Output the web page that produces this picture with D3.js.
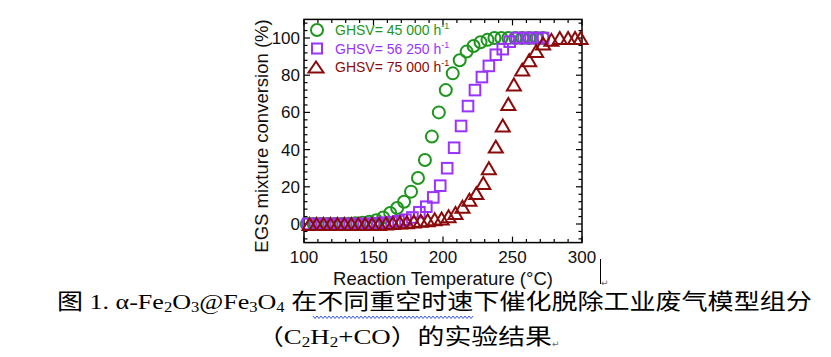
<!DOCTYPE html>
<html><head><meta charset="utf-8">
<script src="https://cdn.jsdelivr.net/npm/d3@7"></script>
<style>html,body{margin:0;padding:0;background:#fff;}</style>
</head><body>
<svg id="c" width="831" height="357"></svg>
<script>
// ---- data ----
const seriesNames = ["GHSV= 45 000 h", "GHSV= 56 250 h", "GHSV= 75 000 h"];
const tempA = [102,107,112,117,122,127,132,137,142,147,152,157,162,167,172,177,182,187,192,197,202,207,212,217,222,227,232,237,242,247,252,257,262,267,272];
const convA = [0,0,0,0,0,0,0.2,0.4,0.7,1.2,2,3.5,5.9,8.6,12,17.4,24.7,34.4,47,60,72,81,88,92.7,95.7,97.7,99,100,100,100,100,100,100,100,100];
const tempB = [103,108,113,118,123,128,133,138,143,148,153,158,163,168,173,178,183,188,193,198,203,208,213,218,223,228,233,238,243,248,253,258,263,268,272];
const convB = [0,0,0,0,0,0,0,0,0,0.2,0.4,0.7,1,1.5,2.3,3.5,6.3,9.3,14.3,20.6,30,41,52.7,63.4,72,79,85,91,94,98,100,100,100,100,100];
const tempC = [104,109,114,119,124,129,134,139,144,149,154,159,164,169,174,179,184,189,194,199,204,209,214,219,224,229,233,238,243,247,251,257,262,267,272,278,284,290,295,299];
const convC = [0,0,0,0,0,0,0,0,0,0,0,0.3,0.5,0.8,1,1.3,1.7,2,2.5,3,4.2,5.9,9.3,13,16.6,22,30,41.6,53,64.5,75,83,88,93,97,99,100,100,100,100];
const xTicks = [100,150,200,250,300];
const yTicks = [0,20,40,60,80,100];
const colors = ["#1e961e", "#9a33ff", "#8b0a0a"];

const svg = d3.select("#c");
const X0=304, X1=582, Y0=242.6, Y1=19.4;
const x = d3.scaleLinear().domain([100,300]).range([X0,X1]);
const y = d3.scaleLinear().domain([-10,110]).range([Y0,Y1]);

// frame
svg.append("rect").attr("x",X0).attr("y",Y1).attr("width",X1-X0).attr("height",Y0-Y1)
  .attr("fill","none").attr("stroke","#000").attr("stroke-width",1.5);

// ticks (inward, all four sides)
const xMinor = d3.range(110,300,10).filter(v=>v%50!==0);
const yMinor = d3.range(-8,110,4).filter(v=>v%20!==0);
const tg = svg.append("g").attr("stroke","#000").attr("stroke-width",1.2);
xTicks.forEach(v=>{ tg.append("line").attr("x1",x(v)).attr("x2",x(v)).attr("y1",Y0).attr("y2",Y0-6);
  tg.append("line").attr("x1",x(v)).attr("x2",x(v)).attr("y1",Y1).attr("y2",Y1+6);});
xMinor.forEach(v=>{ tg.append("line").attr("x1",x(v)).attr("x2",x(v)).attr("y1",Y0).attr("y2",Y0-3.5);
  tg.append("line").attr("x1",x(v)).attr("x2",x(v)).attr("y1",Y1).attr("y2",Y1+3.5);});
yTicks.forEach(v=>{ tg.append("line").attr("y1",y(v)).attr("y2",y(v)).attr("x1",X0).attr("x2",X0+6);
  tg.append("line").attr("y1",y(v)).attr("y2",y(v)).attr("x1",X1).attr("x2",X1-6);});
yMinor.forEach(v=>{ tg.append("line").attr("y1",y(v)).attr("y2",y(v)).attr("x1",X0).attr("x2",X0+3.5);
  tg.append("line").attr("y1",y(v)).attr("y2",y(v)).attr("x1",X1).attr("x2",X1-3.5);});

// tick labels
const lab = svg.append("g").attr("font-family","Liberation Sans, Arial, sans-serif").attr("font-size",17).attr("fill","#111");
xTicks.forEach(v=>lab.append("text").attr("x",x(v)).attr("y",263).attr("text-anchor","middle").text(v));
yTicks.forEach(v=>lab.append("text").attr("x",300).attr("y",y(v)+6).attr("text-anchor","end").text(v));

// axis titles
svg.append("text").attr("x",(X0+X1)/2).attr("y",285).attr("text-anchor","middle")
  .attr("font-family","Liberation Sans, Arial, sans-serif").attr("font-size",18.5).attr("fill","#111")
  .text("Reaction Temperature (°C)");
svg.append("text").attr("transform","translate(268,136) rotate(-90)").attr("text-anchor","middle")
  .attr("font-family","Liberation Sans, Arial, sans-serif").attr("font-size",18.5).attr("fill","#111")
  .text("EGS mixture conversion (%)");

// markers
function tri(cx,cy,w,h){ return `M${cx-w/2},${cy+h/2}L${cx+w/2},${cy+h/2}L${cx},${cy-h/2}Z`; }
const gA = svg.append("g");
tempA.forEach((t,i)=>gA.append("circle").attr("cx",x(t)).attr("cy",y(convA[i])).attr("r",6)
  .attr("fill","none").attr("stroke",colors[0]).attr("stroke-width",2));
const gB = svg.append("g");
tempB.forEach((t,i)=>gB.append("rect").attr("x",x(t)-5.3).attr("y",y(convB[i])-5.3).attr("width",10.6).attr("height",10.6)
  .attr("fill","none").attr("stroke",colors[1]).attr("stroke-width",2));
const gC = svg.append("g");
tempC.forEach((t,i)=>gC.append("path").attr("d",tri(x(t),y(convC[i]),14,12))
  .attr("fill","none").attr("stroke",colors[2]).attr("stroke-width",2).attr("stroke-linejoin","miter"));

// legend
const leg = svg.append("g").attr("font-family","Liberation Sans, Arial, sans-serif");
const legY = [30,48.5,67];
leg.append("circle").attr("cx",317).attr("cy",legY[0]).attr("r",6).attr("fill","none").attr("stroke",colors[0]).attr("stroke-width",2);
leg.append("rect").attr("x",312).attr("y",legY[1]-5).attr("width",10).attr("height",10).attr("fill","none").attr("stroke",colors[1]).attr("stroke-width",2);
leg.append("path").attr("d",tri(316,legY[2],15,11)).attr("fill","none").attr("stroke",colors[2]).attr("stroke-width",2);
seriesNames.forEach((s,i)=>{
  const t = leg.append("text").attr("x",335).attr("y",legY[i]+5).attr("font-size",14).attr("fill",colors[i]);
  t.append("tspan").text(s);
  t.append("tspan").attr("dy",-6).attr("font-size",9).text("-1");
});

// caption
const cap = svg.append("g").attr("font-family","Liberation Serif, Times New Roman, Noto Sans CJK SC, serif").attr("fill","#000");
const l1 = cap.append("text").attr("x",0).attr("y",0).attr("font-size",22);
[["图 1. α-Fe",0],["2",1],["O",0],["3",1],["@Fe",0],["3",1],["O",0],["4",1],[" 在不同重空时速下催化脱除工业废气模型组分",0]].forEach(([s,sub])=>{
  const ts = l1.append("tspan").text(s);
  if(sub){ ts.attr("font-size",14).attr("dy",3); } else { ts.attr("dy", l1.selectAll("tspan").size()>1 ? -3 : 0); }
});
const l2 = cap.append("text").attr("x",0).attr("y",0).attr("font-size",22);
[["（C",0],["2",1],["H",0],["2",1],["+CO）的实验结果",0]].forEach(([s,sub],k)=>{
  const ts = l2.append("tspan").text(s);
  if(sub){ ts.attr("font-size",14).attr("dy",3); } else { ts.attr("dy", k>0 ? -3 : 0); }
});
function fit(el, xl, xr, base){
  const b = el.node().getBBox();
  const sx = (xr-xl)/b.width;
  el.attr("transform",`translate(${xl - b.x*sx},${base}) scale(${sx},1)`);
}
fit(l1, 57, 812, 309);
fit(l2, 257, 552, 344);

// wavy underline (spell check mark) under 不同重空时速
let wp = "M313,316"; for(let xx=313; xx<473; xx+=4){ wp += `L${xx+2},${318.5}L${xx+4},316`; }
svg.append("path").attr("d",wp).attr("fill","none").attr("stroke","#3355ee").attr("stroke-width",1);

// editor marks
svg.append("line").attr("x1",600.5).attr("x2",600.5).attr("y1",259).attr("y2",284).attr("stroke","#000").attr("stroke-width",1);
svg.append("text").attr("x",601).attr("y",286).attr("font-size",9).attr("fill","#666").attr("font-family","DejaVu Sans").text("↵");
svg.append("text").attr("x",552).attr("y",347).attr("font-size",9).attr("fill","#666").attr("font-family","DejaVu Sans").text("↵");
</script>
</body></html>
